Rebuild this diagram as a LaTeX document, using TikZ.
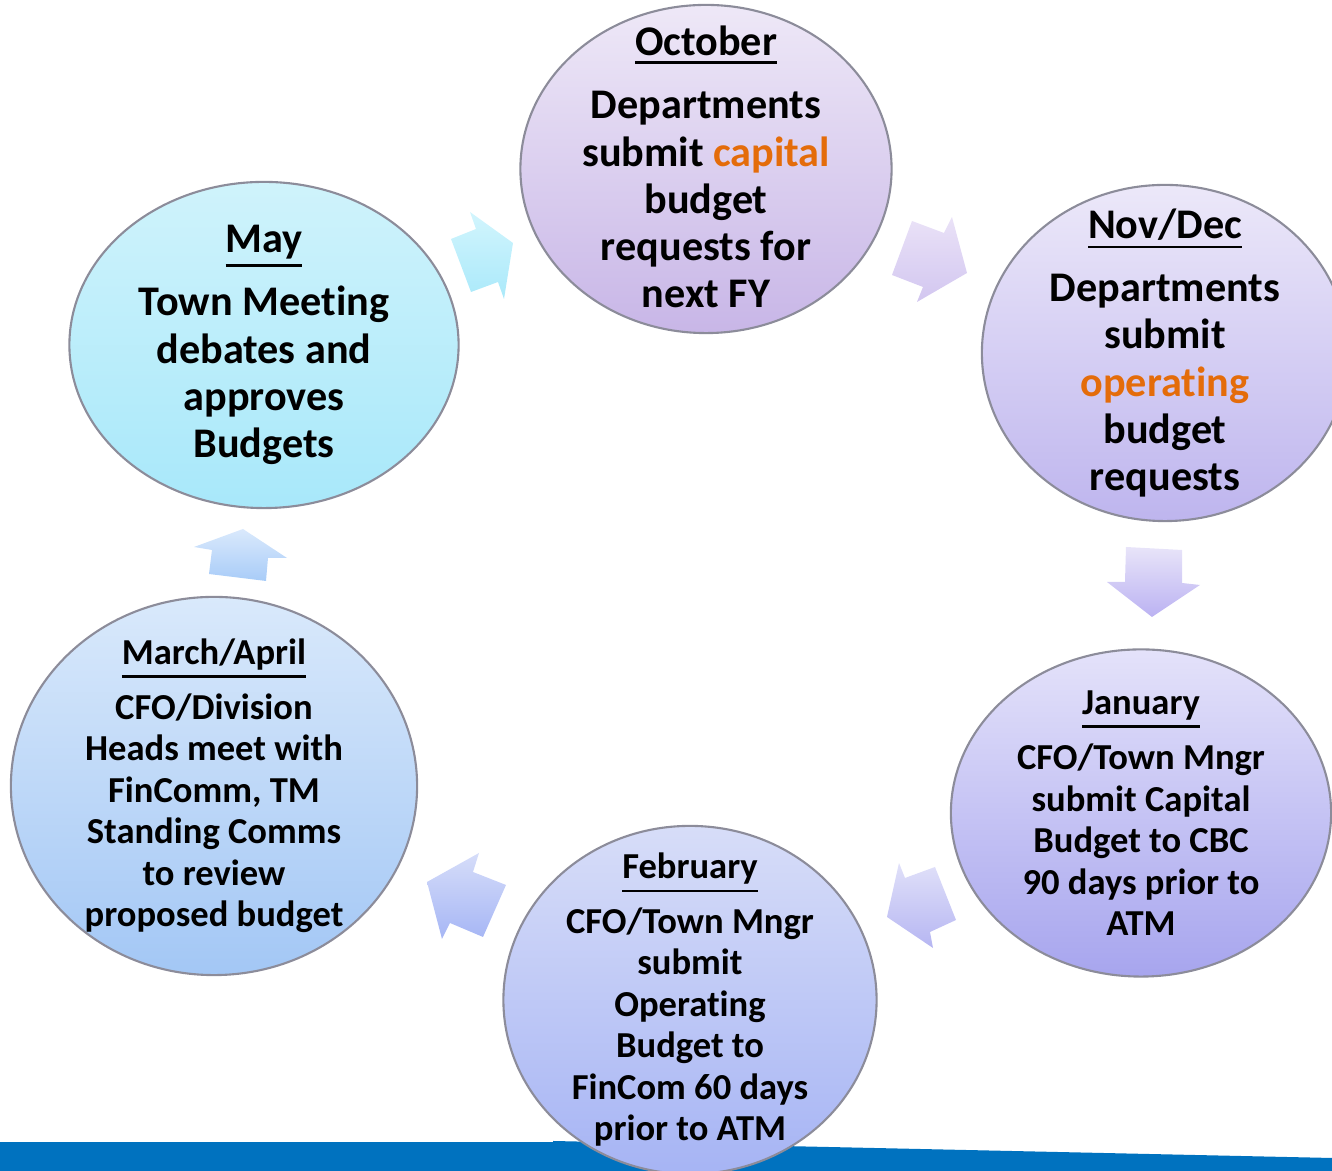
\documentclass[tikz,border=0pt]{standalone}
\usepackage{fontspec}
\setmainfont{Carlito}[Ligatures=NoCommon]
\usetikzlibrary{shapes.geometric}
\definecolor{hiorange}{HTML}{E46C0A}
\definecolor{barblue}{HTML}{0072BF}
\definecolor{rimgray}{HTML}{8C8C9A}
\newcommand{\mtitle}[1]{\leavevmode\vtop{\hbox{#1}\kern1.4pt\hrule height 0.8pt}} %Underlined month
\tikzset{
  month/.style={ellipse, draw=rimgray, line width=0.6pt, inner sep=0pt},
  monthtext/.style={align=center, inner sep=0pt, font=\bfseries\fontsize{12}{13.4}\selectfont},
  smalltext/.style={font=\bfseries\fontsize{10.4}{11.8}\selectfont},
  blockarrow/.style={draw=none}
}
\begin{document}
\begin{tikzpicture}[x=0.01cm, y=-0.01cm] %Picture in pixel units
  \useasboundingbox (0,0) rectangle (1332,1171); %Frame
    %Blue bar at the bottom
  \fill[barblue] (0,1142) rectangle (553,1171); %Left part
  \fill[barblue] (553,1141) -- (1332,1158) -- (1332,1171) -- (553,1171) -- cycle; %Right part
    %Months
  \node[month, minimum width=3.71cm, minimum height=3.28cm, top color={rgb,255:red,238;green,232;blue,247}, bottom color={rgb,255:red,200;green,182;blue,231}] (oct) at (706,169) {}; %October
  \node[monthtext] (octtext) at ([yshift=0.02cm]oct.center)
    {\mtitle{October}\\[0.16cm] Departments\\ submit \textcolor{hiorange}{capital}\\ budget\\ requests for\\ next FY};
  \node[month, minimum width=3.66cm, minimum height=3.36cm, top color={rgb,255:red,236;green,232;blue,249}, bottom color={rgb,255:red,190;green,181;blue,238}] (novdec) at (1165,353) {}; %Nov/Dec
  \node[monthtext] (novdectext) at (novdec.center)
    {\mtitle{Nov/Dec}\\[0.16cm] Departments\\ submit\\ \textcolor{hiorange}{operating}\\ budget\\ requests};
  \node[month, minimum width=3.80cm, minimum height=3.27cm, top color={rgb,255:red,228;green,226;blue,250}, bottom color={rgb,255:red,167;green,165;blue,238}] (jan) at (1141,813) {}; %January
  \node[monthtext, smalltext] (jantext) at (jan.center)
    {\mtitle{January}\\[0.14cm] CFO/Town Mngr\\ submit Capital\\ Budget to CBC\\ 90 days prior to\\ ATM};
  \node[month, minimum width=3.73cm, minimum height=3.48cm, top color={rgb,255:red,215;green,221;blue,248}, bottom color={rgb,255:red,166;green,180;blue,244}] (feb) at (690,1000) {}; %February
  \node[monthtext, smalltext] (febtext) at (feb.center)
    {\mtitle{February}\\[0.13cm] CFO/Town Mngr\\ submit\\ Operating\\ Budget to\\ FinCom 60 days\\ prior to ATM};
  \node[month, minimum width=4.06cm, minimum height=3.78cm, top color={rgb,255:red,217;green,233;blue,251}, bottom color={rgb,255:red,163;green,199;blue,245}] (marapr) at (214,786) {}; %March/April
  \node[monthtext, smalltext] (maraprtext) at (marapr.center)
    {\mtitle{March/April}\\[0.13cm] CFO/Division\\ Heads meet with\\ FinComm, TM\\ Standing Comms\\ to review\\ proposed budget};
  \node[month, minimum width=3.89cm, minimum height=3.26cm, top color={rgb,255:red,207;green,243;blue,251}, bottom color={rgb,255:red,168;green,232;blue,250}] (may) at (264,345) {}; %May
  \node[monthtext] (maytext) at (may.center)
    {\mtitle{May}\\[0.16cm] Town Meeting\\ debates and\\ approves\\ Budgets};
    %Block arrows between the months
  \path[blockarrow, top color={rgb,255:red,210;green,245;blue,253}, bottom color={rgb,255:red,170;green,233;blue,250}]
    (451,239) -- (476,229) -- (470,212) -- (513,243) -- (504,299) -- (498,282) -- (471,292) -- cycle; %May to October
  \path[blockarrow, top color={rgb,255:red,234;green,226;blue,247}, bottom color={rgb,255:red,210;green,198;blue,240}]
    (892,275) -- (912,221) -- (944,233) -- (952,217) -- (967,273) -- (917,302) -- (923,287) -- cycle; %October to Nov/Dec
  \path[blockarrow, top color={rgb,255:red,232;green,228;blue,249}, bottom color={rgb,255:red,187;green,178;blue,242}]
    (1126,547) -- (1182,550) -- (1182,583) -- (1200,585) -- (1152,617) -- (1107,582) -- (1125,582) -- cycle; %Nov/Dec to January
  \path[blockarrow, top color={rgb,255:red,224;green,224;blue,249}, bottom color={rgb,255:red,182;green,182;blue,242}]
    (887,917) -- (899,863) -- (905,878) -- (935,867) -- (956,920) -- (930,932) -- (933,948) -- cycle; %January to February
  \path[blockarrow, top color={rgb,255:red,214;green,221;blue,249}, bottom color={rgb,255:red,166;green,182;blue,245}]
    (427,882) -- (479,853) -- (473,872) -- (506,885) -- (483,937) -- (450,923) -- (442,939) -- cycle; %February to March/April
  \path[blockarrow, top color={rgb,255:red,218;green,233;blue,252}, bottom color={rgb,255:red,168;green,204;blue,248}]
    (194,547) -- (243,529) -- (287,558) -- (268,558) -- (266,581) -- (209,574) -- (212,550) -- cycle; %March/April to May
\end{tikzpicture}
\end{document}
